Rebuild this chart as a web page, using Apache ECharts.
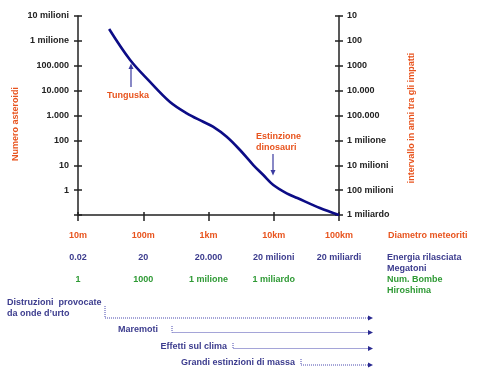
<!DOCTYPE html>
<html>
<head>
<meta charset="utf-8">
<script src="https://cdn.jsdelivr.net/npm/echarts@6/dist/echarts.min.js"></script>
<style>html,body{margin:0;padding:0;background:#fff;}#c{width:480px;height:373px;}</style>
</head>
<body>
<div id="c"></div>
<script>
// ---- data ----
const diameters = [30, 63, 126, 257, 465, 830, 1170, 1900, 3040, 4860, 6920, 9850, 15800, 23000, 51000, 100000]; // metres
const asteroids = [3000000, 170000, 23000, 3500, 1230, 560, 355, 140, 41, 10.2, 4.05, 1.6, 0.74, 0.48, 0.19, 0.1];
const diameterLabels = ['10m', '100m', '1km', '10km', '100km'];
const energyLabels = ['0.02', '20', '20.000', '20 milioni', '20 miliardi'];
const bombLabels = ['1', '1000', '1 milione', '1 miliardo', ''];
const countLabels = ['1', '10', '100', '1.000', '10.000', '100.000', '1 milione', '10 milioni']; // 10^0 .. 10^7
const intervalLabels = ['10', '100', '1000', '10.000', '100.000', '1 milione', '10 milioni', '100 milioni', '1 miliardo']; // top to bottom
const effects = ['Distruzioni  provocate\nda onde d\u2019urto', 'Maremoti', 'Effetti sul clima', 'Grandi estinzioni di massa'];

// ---- style ----
const FONT = '"Liberation Sans", Arial, sans-serif';
const ORANGE = '#e8541e';
const NAVY = '#3c3c8e';
const GREEN = '#2f9a35';
const AXIS = '#222';
const LINE = '#0c0c86';
const FS = 9;

const chart = echarts.init(document.getElementById('c'), null, {renderer: 'canvas'});
const exp = v => Math.round(Math.log10(v));

const xBase = {type: 'log', logBase: 10, min: 10, max: 100000, position: 'bottom'};
const yBase = {type: 'log', logBase: 10, min: 0.1, max: 10000000, splitLine: {show: false}};
const lbl = (color) => ({color: color, fontFamily: FONT, fontWeight: 'bold', fontSize: FS});

function bracket(x, y0, y1, x1) {
  return [
    {type: 'polyline', shape: {points: [[x, y0], [x, y1], [x1 - 4, y1]]},
     style: {stroke: '#4b4bb0', lineWidth: 1, lineDash: [1, 1], fill: null}},
    {type: 'polygon', shape: {points: [[x1 - 5, y1 - 2.5], [x1, y1], [x1 - 5, y1 + 2.5]]},
     style: {fill: '#2a2a90'}}
  ];
}
function txt(x, y, text, color, align, extra) {
  return Object.assign({type: 'text', x: x, y: y,
    style: {text: text, fill: color, font: 'bold ' + FS + 'px ' + FONT, align: align || 'left', verticalAlign: 'middle', lineHeight: 11}}, extra || {});
}

const graphics = [
  txt(16, 124, 'Numero asteroidi', ORANGE, 'center', {rotation: Math.PI / 2}),
  txt(412, 118, 'intervallo in anni tra gli impatti', ORANGE, 'center', {rotation: Math.PI / 2}),
  txt(388, 236, 'Diametro meteoriti', ORANGE),
  txt(387, 263, 'Energia rilasciata\nMegatoni', NAVY),
  txt(387, 285.5, 'Num. Bombe\nHiroshima', GREEN),
  txt(7, 308.5, effects[0], NAVY),
  txt(158, 330, effects[1], NAVY, 'right'),
  txt(227, 347, effects[2], NAVY, 'right'),
  txt(295, 363, effects[3], NAVY, 'right'),
  // annotations
  txt(128, 96, 'Tunguska', ORANGE, 'center'),
  {type: 'line', shape: {x1: 131, y1: 87, x2: 131, y2: 68}, style: {stroke: '#3a3aa0', lineWidth: 1.2}},
  {type: 'polygon', shape: {points: [[128.5, 69], [131, 63.5], [133.5, 69]]}, style: {fill: '#3a3aa0'}},
  txt(256, 142, 'Estinzione\ndinosauri', ORANGE, 'left'),
  {type: 'line', shape: {x1: 273, y1: 154, x2: 273, y2: 171}, style: {stroke: '#3a3aa0', lineWidth: 1.2}},
  {type: 'polygon', shape: {points: [[270.5, 170], [273, 175.5], [275.5, 170]]}, style: {fill: '#3a3aa0'}}
].concat(bracket(105, 306, 318, 373), bracket(172, 326, 332.5, 373), bracket(233, 343, 348.5, 373), bracket(301, 359, 365, 373));

chart.setOption({
  animation: false,
  backgroundColor: '#fff',
  grid: {left: 78, right: 141, top: 16, bottom: 158, containLabel: false},
  xAxis: [
    Object.assign({}, xBase, {
      axisLine: {show: true, lineStyle: {color: AXIS, width: 1.5}},
      axisTick: {show: true, length: 6, lineStyle: {color: AXIS, width: 1.5}},
      axisLabel: Object.assign(lbl(ORANGE), {margin: 16, formatter: v => diameterLabels[exp(v) - 1] || ''}),
      splitLine: {show: false}
    }),
    Object.assign({}, xBase, {
      axisLine: {show: false}, axisTick: {show: true, inside: true, length: 3, lineStyle: {color: AXIS, width: 1.5}},
      axisLabel: {show: false}, splitLine: {show: false}
    }),
    Object.assign({}, xBase, {
      offset: 38, axisLine: {show: false}, axisTick: {show: false},
      axisLabel: Object.assign(lbl(NAVY), {margin: 0, formatter: v => energyLabels[exp(v) - 1] || ''}),
      splitLine: {show: false}
    }),
    Object.assign({}, xBase, {
      offset: 60, axisLine: {show: false}, axisTick: {show: false},
      axisLabel: Object.assign(lbl(GREEN), {margin: 0, formatter: v => bombLabels[exp(v) - 1] || ''}),
      splitLine: {show: false}
    })
  ],
  yAxis: [
    Object.assign({}, yBase, {
      position: 'left',
      axisLine: {show: true, lineStyle: {color: AXIS, width: 1.5}},
      axisTick: {show: true, length: 4, lineStyle: {color: AXIS, width: 1.5}},
      axisLabel: Object.assign(lbl('#222'), {margin: 9, formatter: v => { const k = exp(v); return k >= 0 ? countLabels[k] : ''; }})
    }),
    Object.assign({}, yBase, {
      position: 'left',
      axisLine: {show: false},
      axisTick: {show: true, inside: true, length: 4, lineStyle: {color: AXIS, width: 1.5}},
      axisLabel: {show: false}
    }),
    Object.assign({}, yBase, {
      position: 'right',
      axisLine: {show: true, lineStyle: {color: AXIS, width: 1.5}},
      axisTick: {show: true, length: 4, lineStyle: {color: AXIS, width: 1.5}},
      axisLabel: Object.assign(lbl('#222'), {margin: 8, formatter: v => intervalLabels[7 - exp(v)] || ''})
    }),
    Object.assign({}, yBase, {
      position: 'right',
      axisLine: {show: false},
      axisTick: {show: true, inside: true, length: 4, lineStyle: {color: AXIS, width: 1.5}},
      axisLabel: {show: false}
    })
  ],
  series: [{
    type: 'line',
    xAxisIndex: 0,
    yAxisIndex: 0,
    data: diameters.map((d, i) => [d, asteroids[i]]),
    smooth: 0.35,
    showSymbol: false,
    lineStyle: {color: LINE, width: 2.6},
    z: 5
  }],
  graphic: graphics
});
</script>
</body>
</html>
